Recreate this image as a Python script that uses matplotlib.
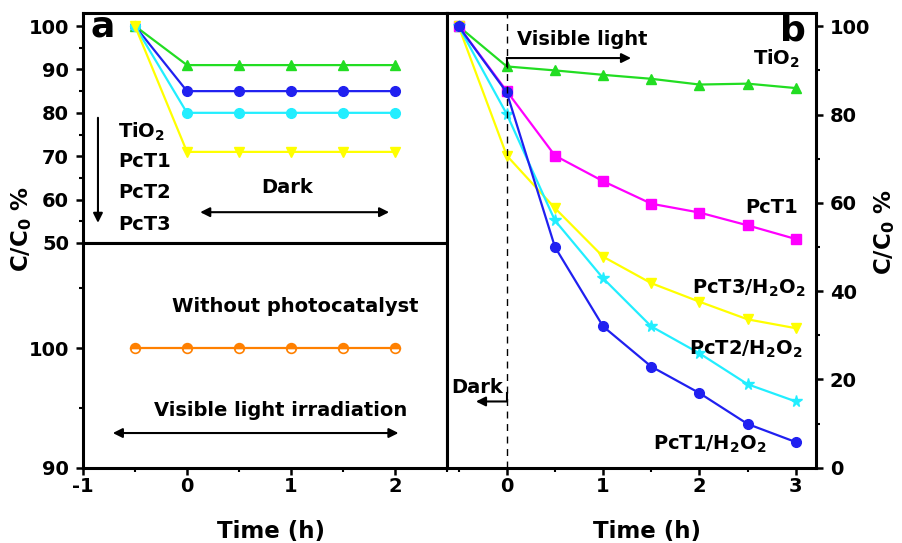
import numpy as np
import matplotlib
matplotlib.use('Agg')
import matplotlib.pyplot as plt
from matplotlib.ticker import MultipleLocator, FixedLocator

plt.rcParams['font.family'] = ['DejaVu Sans']
plt.rcParams['font.weight'] = 'bold'
plt.rcParams['axes.unicode_minus'] = False
plt.rcParams['mathtext.fontset'] = 'custom'
plt.rcParams['mathtext.rm'] = 'DejaVu Sans:bold'
plt.rcParams['mathtext.it'] = 'DejaVu Sans:bold'
plt.rcParams['mathtext.bf'] = 'DejaVu Sans:bold'

#Panel a, dark adsorption
t_dark    = [-0.5, 0, 0.5, 1, 1.5, 2]
tio2_dark = [100, 91, 91, 91, 91, 91]
pct1_dark = [100, 85, 85, 85, 85, 85]
pct2_dark = [100, 80, 80, 80, 80, 80]
pct3_dark = [100, 71, 71, 71, 71, 71]

#Panel a, without photocatalyst
t_blank = [-0.5, 0, 0.5, 1, 1.5, 2]
blank   = [100, 100, 100, 100, 100, 100]

#Panel b, visible light
t_light      = [-0.5, 0, 0.5, 1, 1.5, 2, 2.5, 3]
tio2_light   = [100, 90.9, 90.0, 89.0, 88.1, 86.8, 87.0, 86.0]
pct1_light   = [100, 85.3, 70.7, 64.9, 59.8, 57.8, 54.9, 51.8]
pct1_h2o2    = [100, 85.0, 50.0, 32.0, 22.9, 16.9, 9.9, 5.8]
pct2_h2o2    = [100, 80.1, 56.0, 42.9, 32.0, 25.9, 18.9, 15.0]
pct3_h2o2    = [100, 70.7, 58.8, 47.8, 41.8, 37.6, 33.6, 31.6]

green   = '#22dd22'
blue    = '#2020f0'
cyan    = '#22eeff'
yellow  = '#ffff00'
magenta = '#ff00ff'
orange  = '#ff8000'

fig = plt.figure(figsize=(9.02, 5.43), dpi=100)

left, mid, right = 0.092, 0.4956, 0.9047
bottom, div, top = 0.1387, 0.5525, 0.976

ax1 = fig.add_axes([left, div, mid - left, top - div])
ax2 = fig.add_axes([left, bottom, mid - left, div - bottom])
ax3 = fig.add_axes([mid, bottom, right - mid, top - bottom])

lw = 1.6
ms = 7
fs = 14

def style(ax):
    for s in ax.spines.values():
        s.set_linewidth(2.2)
    ax.tick_params(which='major', direction='out', length=5, width=1.8, labelsize=14, pad=2)
    ax.tick_params(which='minor', direction='out', length=3, width=1.5)
    ax.tick_params(axis='y', which='major', pad=5)
    for lab in ax.get_xticklabels() + ax.get_yticklabels():
        lab.set_fontweight('bold')

###Panel a top###
ax1.plot(t_dark, tio2_dark, color=green,  marker='^', ms=ms, lw=lw)
ax1.plot(t_dark, pct1_dark, color=blue,   marker='o', ms=ms, lw=lw)
ax1.plot(t_dark, pct2_dark, color=cyan,   marker='o', ms=ms, lw=lw)
ax1.plot(t_dark, pct3_dark, color=yellow, marker='v', ms=ms, lw=lw)
ax1.set_xlim(-1, 2.5)
ax1.set_ylim(50, 103)
ax1.xaxis.set_major_locator(FixedLocator([-0.5, 0, 0.5, 1, 1.5, 2]))
ax1.yaxis.set_major_locator(MultipleLocator(10))
ax1.yaxis.set_minor_locator(MultipleLocator(5))
ax1.tick_params(axis='x', labelbottom=False)
style(ax1)

ax1.text(-0.93, 100, 'a', fontsize=26, fontweight='bold', va='center', ha='left')
ax1.annotate('', xy=(-0.856, 54), xytext=(-0.856, 79.5),
             arrowprops=dict(arrowstyle='-|>', lw=1.5, color='k', mutation_scale=14))
ax1.text(-0.66, 74.2, 'TiO$_2$', fontsize=fs, va='baseline')
ax1.text(-0.66, 67.5, 'PcT1', fontsize=fs, va='baseline')
ax1.text(-0.66, 60.4, 'PcT2', fontsize=fs, va='baseline')
ax1.text(-0.66, 53.0, 'PcT3', fontsize=fs, va='baseline')
ax1.text(0.96, 61.5, 'Dark', fontsize=fs, va='baseline', ha='center')
ax1.annotate('', xy=(0.1, 57.1), xytext=(1.97, 57.1),
             arrowprops=dict(arrowstyle='<|-|>', lw=1.5, color='k', mutation_scale=14))

###Panel a bottom###
ax2.plot(t_blank, blank, color=orange, marker='o', ms=ms, lw=lw,
         fillstyle='top', markerfacecoloralt='white', markeredgecolor=orange, markeredgewidth=1.2)
ax2.set_xlim(-1, 2.5)
ax2.set_ylim(90, 108.8)
ax2.xaxis.set_major_locator(MultipleLocator(1))
ax2.xaxis.set_minor_locator(MultipleLocator(0.5))
ax2.yaxis.set_major_locator(MultipleLocator(10))
ax2.yaxis.set_minor_locator(MultipleLocator(5))
style(ax2)
ax2.set_xlabel('Time (h)', fontsize=16.5, fontweight='bold')
ax2.xaxis.set_label_coords(0.516, -0.235)

ax2.text(1.04, 103.0, 'Without photocatalyst', fontsize=fs, ha='center', va='baseline')
ax2.text(0.90, 94.3, 'Visible light irradiation', fontsize=fs, ha='center', va='baseline')
ax2.annotate('', xy=(-0.74, 92.9), xytext=(2.06, 92.9),
             arrowprops=dict(arrowstyle='<|-|>', lw=1.5, color='k', mutation_scale=14))

###Panel b###
ax3.plot(t_light, tio2_light, color=green,   marker='^', ms=ms, lw=lw)
ax3.plot(t_light, pct1_light, color=magenta, marker='s', ms=ms - 0.5, lw=lw)
ax3.plot(t_light, pct3_h2o2,  color=yellow,  marker='v', ms=ms, lw=lw)
ax3.plot(t_light, pct2_h2o2,  color=cyan,    marker='*', ms=ms + 1.5, lw=lw)
ax3.plot(t_light, pct1_h2o2,  color=blue,    marker='o', ms=ms, lw=lw)
ax3.axvline(0, color='k', lw=1.0, ls=(0, (5, 4)))
ax3.set_xlim(-0.62, 3.21)
ax3.set_ylim(0, 103)
ax3.xaxis.set_major_locator(MultipleLocator(1))
ax3.xaxis.set_minor_locator(MultipleLocator(0.5))
ax3.yaxis.set_major_locator(MultipleLocator(20))
ax3.yaxis.set_minor_locator(MultipleLocator(10))
ax3.yaxis.tick_right()
style(ax3)
ax3.set_xlabel('Time (h)', fontsize=16.5, fontweight='bold')
ax3.xaxis.set_label_coords(0.542, -0.116)

ax3.text(3.10, 96.8, 'b', fontsize=26, fontweight='bold', ha='right', va='baseline')
ax3.text(0.107, 95.8, 'Visible light', fontsize=fs, va='baseline')
ax3.plot([0, 0], [91, 92.8], color='k', lw=1.5)
ax3.annotate('', xy=(1.29, 92.8), xytext=(0, 92.8),
             arrowprops=dict(arrowstyle='-|>', lw=1.5, color='k', mutation_scale=14,
                             shrinkA=0, shrinkB=0))
ax3.text(-0.58, 16.9, 'Dark', fontsize=fs, va='baseline')
ax3.plot([0, 0], [15, 17], color='k', lw=1.5)
ax3.annotate('', xy=(-0.32, 15), xytext=(0, 15),
             arrowprops=dict(arrowstyle='-|>', lw=1.5, color='k', mutation_scale=14,
                             shrinkA=0, shrinkB=0))
ax3.text(3.05, 91.3, 'TiO$_2$', fontsize=fs, ha='right', va='baseline')
ax3.text(3.02, 57.7, 'PcT1', fontsize=fs, ha='right', va='baseline')
ax3.text(3.10, 39.5, 'PcT3/H$_2$O$_2$', fontsize=fs, ha='right', va='baseline')
ax3.text(3.07, 25.6, 'PcT2/H$_2$O$_2$', fontsize=fs, ha='right', va='baseline')
ax3.text(2.70, 4.0, 'PcT1/H$_2$O$_2$', fontsize=fs, ha='right', va='baseline')

fig.text(0.0244, 0.578, 'C/C$_0$ %', fontsize=16.5, fontweight='bold', rotation=90, ha='center', va='center')
fig.text(0.981, 0.573, 'C/C$_0$ %', fontsize=16.5, fontweight='bold', rotation=90, ha='center', va='center')

fig.savefig('out.png', dpi=100)
